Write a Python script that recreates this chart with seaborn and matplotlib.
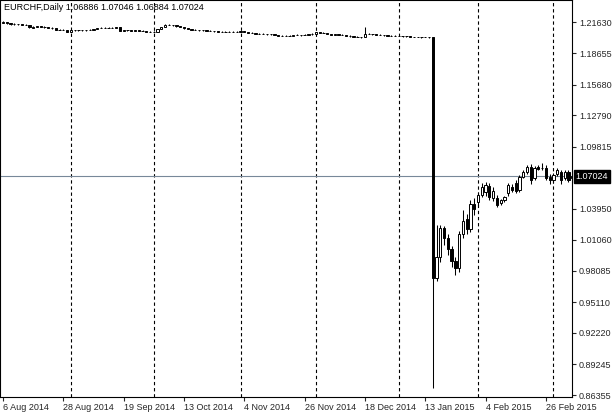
import numpy as np
import pandas as pd
import matplotlib
matplotlib.use("Agg")
import matplotlib.pyplot as plt
import seaborn as sns

# daily bars, weekdays 6 Aug 2014 - 9 Mar 2015 (no bars on 25 Dec / 1 Jan)
dates = pd.bdate_range("2014-08-06", "2015-03-09").drop(pd.to_datetime(["2014-12-25", "2015-01-01"]))

opens = [
    1.2158, 1.2163, 1.2149, 1.2144, 1.2144, 1.2140, 1.2135, 1.2135, 1.2111, 1.2120,
    1.2121, 1.2116, 1.2116, 1.2111, 1.2102, 1.2087, 1.2092, 1.2087, 1.2073, 1.2083,
    1.2087, 1.2087, 1.2083, 1.2087, 1.2092, 1.2097, 1.2106, 1.2111, 1.2111, 1.2111,
    1.2111, 1.2116, 1.2078, 1.2083, 1.2083, 1.2078, 1.2083, 1.2078, 1.2078, 1.2073,
    1.2068, 1.2073, 1.2097, 1.2116, 1.2135, 1.2135, 1.2130, 1.2121, 1.2116, 1.2102,
    1.2097, 1.2092, 1.2087, 1.2083, 1.2083, 1.2078, 1.2078, 1.2078, 1.2073, 1.2073,
    1.2073, 1.2073, 1.2073, 1.2073, 1.2078, 1.2068, 1.2059, 1.2059, 1.2054, 1.2050,
    1.2050, 1.2045, 1.2045, 1.2040, 1.2035, 1.2035, 1.2031, 1.2035, 1.2040, 1.2040,
    1.2040, 1.2040, 1.2045, 1.2054, 1.2064, 1.2059, 1.2059, 1.2050, 1.2040, 1.2045,
    1.2040, 1.2040, 1.2035, 1.2026, 1.2021, 1.2021, 1.2021, 1.2054, 1.2050, 1.2045,
    1.2040, 1.2040, 1.2040, 1.2035, 1.2035, 1.2031, 1.2031, 1.2026, 1.2026, 1.2021,
    1.2021, 1.2021, 1.2021, 1.2021, 1.2017, 0.9745, 0.9941, 1.0215, 1.0120, 1.0016,
    0.9903, 0.9837, 1.0158, 1.0300, 1.0205, 1.0442, 1.0461, 1.0527, 1.0555, 1.0612,
    1.0499, 1.0499, 1.0451, 1.0480, 1.0546, 1.0603, 1.0640, 1.0574, 1.0697, 1.0744,
    1.0792, 1.0688, 1.0792, 1.0782, 1.0782, 1.0697, 1.0669, 1.0725, 1.0744, 1.0688,
    1.0744, 1.06886,
]
highs = [
    1.2168, 1.2167, 1.2153, 1.2150, 1.2148, 1.2144, 1.2141, 1.2138, 1.2124, 1.2126,
    1.2124, 1.2121, 1.2119, 1.2115, 1.2105, 1.2097, 1.2095, 1.2090, 1.2087, 1.2092,
    1.2092, 1.2090, 1.2091, 1.2096, 1.2101, 1.2110, 1.2115, 1.2116, 1.2115, 1.2116,
    1.2120, 1.2119, 1.2087, 1.2088, 1.2086, 1.2087, 1.2086, 1.2083, 1.2081, 1.2076,
    1.2077, 1.2101, 1.2120, 1.2140, 1.2142, 1.2139, 1.2134, 1.2125, 1.2119, 1.2106,
    1.2100, 1.2096, 1.2091, 1.2088, 1.2086, 1.2083, 1.2082, 1.2081, 1.2078, 1.2077,
    1.2078, 1.2077, 1.2078, 1.2082, 1.2081, 1.2072, 1.2064, 1.2063, 1.2058, 1.2055,
    1.2053, 1.2050, 1.2048, 1.2044, 1.2040, 1.2039, 1.2039, 1.2044, 1.2045, 1.2044,
    1.2045, 1.2049, 1.2058, 1.2068, 1.2067, 1.2064, 1.2062, 1.2053, 1.2049, 1.2048,
    1.2045, 1.2043, 1.2038, 1.2030, 1.2026, 1.2025, 1.2116, 1.2058, 1.2053, 1.2048,
    1.2045, 1.2044, 1.2043, 1.2040, 1.2038, 1.2035, 1.2034, 1.2030, 1.2029, 1.2025,
    1.2024, 1.2025, 1.2024, 1.2024, 1.2022, 1.0243, 1.0243, 1.0234, 1.0158, 1.0045,
    0.9941, 1.0187, 1.0385, 1.0347, 1.0480, 1.0499, 1.0555, 1.0640, 1.0650, 1.0640,
    1.0603, 1.0527, 1.0489, 1.0517, 1.0640, 1.0631, 1.0669, 1.0716, 1.0763, 1.0811,
    1.0820, 1.0801, 1.0811, 1.0830, 1.0811, 1.0725, 1.0735, 1.0782, 1.0763, 1.0763,
    1.0763, 1.07046,
]
lows = [
    1.2154, 1.2146, 1.2139, 1.2139, 1.2135, 1.2130, 1.2130, 1.2111, 1.2107, 1.2115,
    1.2112, 1.2111, 1.2107, 1.2098, 1.2083, 1.2084, 1.2083, 1.2069, 1.2070, 1.2079,
    1.2082, 1.2078, 1.2079, 1.2084, 1.2088, 1.2094, 1.2102, 1.2106, 1.2107, 1.2106,
    1.2108, 1.2074, 1.2075, 1.2078, 1.2074, 1.2075, 1.2074, 1.2074, 1.2069, 1.2064,
    1.2065, 1.2070, 1.2094, 1.2112, 1.2130, 1.2126, 1.2117, 1.2112, 1.2098, 1.2093,
    1.2088, 1.2083, 1.2079, 1.2078, 1.2074, 1.2074, 1.2073, 1.2069, 1.2069, 1.2068,
    1.2069, 1.2068, 1.2069, 1.2070, 1.2064, 1.2055, 1.2055, 1.2050, 1.2046, 1.2046,
    1.2041, 1.2041, 1.2036, 1.2031, 1.2031, 1.2027, 1.2028, 1.2032, 1.2036, 1.2035,
    1.2036, 1.2037, 1.2042, 1.2051, 1.2055, 1.2055, 1.2046, 1.2036, 1.2037, 1.2036,
    1.2036, 1.2031, 1.2022, 1.2017, 1.2017, 1.2016, 1.2017, 1.2046, 1.2041, 1.2036,
    1.2036, 1.2035, 1.2031, 1.2031, 1.2027, 1.2027, 1.2022, 1.2022, 1.2018, 1.2017,
    1.2017, 1.2016, 1.2017, 1.2013, 0.8702, 0.9714, 0.9893, 1.0054, 0.9960, 0.9846,
    0.9770, 0.9799, 1.0120, 1.0158, 1.0177, 1.0338, 1.0432, 1.0508, 1.0517, 1.0480,
    1.0470, 1.0413, 1.0432, 1.0461, 1.0517, 1.0555, 1.0546, 1.0555, 1.0688, 1.0725,
    1.0631, 1.0669, 1.0763, 1.0763, 1.0669, 1.0631, 1.0640, 1.0707, 1.0631, 1.0669,
    1.0650, 1.06884,
]
closes = [
    1.2163, 1.2149, 1.2144, 1.2144, 1.2140, 1.2135, 1.2135, 1.2116, 1.2120, 1.2121,
    1.2116, 1.2116, 1.2111, 1.2102, 1.2087, 1.2092, 1.2087, 1.2073, 1.2083, 1.2087,
    1.2087, 1.2083, 1.2087, 1.2092, 1.2097, 1.2106, 1.2111, 1.2111, 1.2111, 1.2111,
    1.2116, 1.2078, 1.2083, 1.2083, 1.2078, 1.2083, 1.2078, 1.2078, 1.2073, 1.2068,
    1.2073, 1.2097, 1.2116, 1.2135, 1.2135, 1.2130, 1.2121, 1.2116, 1.2102, 1.2097,
    1.2092, 1.2087, 1.2083, 1.2083, 1.2078, 1.2078, 1.2078, 1.2073, 1.2073, 1.2073,
    1.2073, 1.2073, 1.2073, 1.2078, 1.2068, 1.2059, 1.2059, 1.2054, 1.2050, 1.2050,
    1.2045, 1.2045, 1.2040, 1.2035, 1.2035, 1.2031, 1.2035, 1.2040, 1.2040, 1.2040,
    1.2040, 1.2045, 1.2054, 1.2064, 1.2059, 1.2059, 1.2050, 1.2040, 1.2045, 1.2040,
    1.2040, 1.2035, 1.2026, 1.2021, 1.2021, 1.2021, 1.2054, 1.2050, 1.2045, 1.2040,
    1.2040, 1.2040, 1.2035, 1.2035, 1.2031, 1.2031, 1.2026, 1.2026, 1.2021, 1.2021,
    1.2021, 1.2021, 1.2021, 1.2017, 0.9742, 0.9941, 1.0215, 1.0120, 1.0016, 0.9903,
    0.9837, 1.0158, 1.0281, 1.0205, 1.0442, 1.0395, 1.0527, 1.0603, 1.0622, 1.0508,
    1.0565, 1.0432, 1.0480, 1.0508, 1.0622, 1.0574, 1.0565, 1.0697, 1.0744, 1.0792,
    1.0669, 1.0782, 1.0773, 1.0779, 1.0688, 1.0669, 1.0716, 1.0763, 1.0669, 1.0744,
    1.0669, 1.07024,
]

price_ticks = [1.21630, 1.18655, 1.15680, 1.12790, 1.09815, 1.03950,
               1.01060, 0.98085, 0.95110, 0.92220, 0.89245, 0.86355]
symbol = "EURCHF,Daily"

df = pd.DataFrame({"date": dates, "open": opens, "high": highs, "low": lows, "close": closes})
df["pos"] = np.arange(len(df))
df["body"] = (df["close"] - df["open"]).abs()
df["base"] = df[["open", "close"]].min(axis=1)
df["up"] = df["close"] >= df["open"]

sns.set_style("white")
plt.rcParams["font.family"] = ["Liberation Sans", "DejaVu Sans"]
fs = 6.5

fig = plt.figure(figsize=(6.13, 4.17), dpi=100)
ax = fig.add_axes([0, 20 / 417, 572 / 613, 397 / 417])

# month separators + last price line
month_start = df["pos"][df["date"].dt.month != df["date"].dt.month.shift()].iloc[1:]
for p in month_start:
    ax.axvline(p, color="black", lw=0.8, ls=(0, (3, 2.5)), zorder=1)
last = df.iloc[-1]
ax.axhline(last["close"], color="#778899", lw=0.8, zorder=1)

# candles: wicks then bodies
ax.vlines(df["pos"], df["low"], df["high"], color="black", lw=0.75, zorder=2)
for up, face in [(True, "white"), (False, "black")]:
    sub = df[df["up"] == up]
    sns.barplot(data=sub, x="pos", y="body", bottom=sub["base"].to_numpy(),
                native_scale=True, width=0.6, color=face, saturation=1,
                edgecolor="black", linewidth=0.7, errorbar=None, ax=ax, zorder=3)

ax.set_xlim(-0.8, 150.93)
ax.set_ylim(0.86166, 1.23711)
ax.set_xlabel("")
ax.set_ylabel("")

xt = df.iloc[::16]
ax.set_xticks(xt["pos"])
ax.set_xticklabels([f"{d.day} {d:%b %Y}" for d in xt["date"]], fontsize=fs)
for lbl in ax.get_xticklabels():
    lbl.set_ha("left")
ax.yaxis.tick_right()
ax.set_yticks(price_ticks)
ax.set_yticklabels([f"{v:.5f}" for v in price_ticks], fontsize=fs)
ax.tick_params(axis="x", length=3, width=0.8, pad=1.5, bottom=True)
ax.tick_params(axis="y", length=3, width=0.8, pad=2, right=True)

for s in ax.spines.values():
    s.set_visible(True)
    s.set_color("black")
    s.set_linewidth(0.8)

ax.annotate(f"{last['close']:.5f}", xy=(1, last["close"]), xycoords=ax.get_yaxis_transform(),
            xytext=(2.5, 0), textcoords="offset points", ha="left", va="center",
            color="white", fontsize=fs, annotation_clip=False,
            bbox=dict(boxstyle="square,pad=0.2", fc="black", ec="black"))

ax.text(4 / 572, 1 - 8 / 397,
        f"{symbol} {last['open']:.5f} {last['high']:.5f} {last['low']:.5f} {last['close']:.5f}",
        transform=ax.transAxes, ha="left", va="center", fontsize=fs, color="black")

fig.savefig("out.png", dpi=100, facecolor="white")
